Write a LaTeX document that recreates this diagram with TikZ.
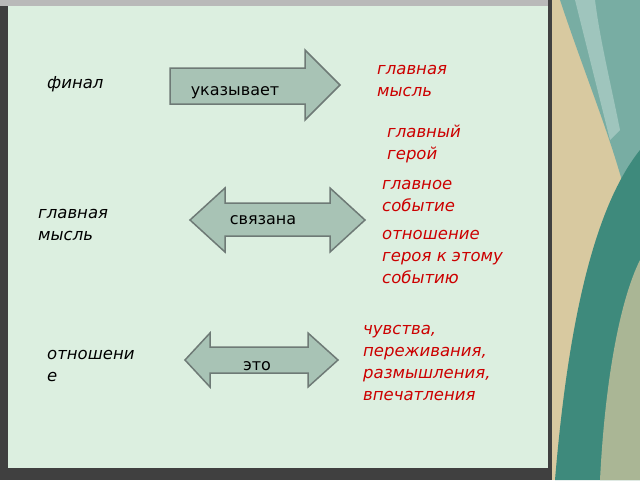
\documentclass[tikz,border=0pt]{standalone}
\usepackage{fontspec}
\setmainfont{DejaVu Sans}
\begin{document}
\begin{tikzpicture}[x=1pt,y=-1pt,
  arr/.style={fill=arrfill,draw=arrdraw,line width=1.5pt,line join=miter},
  blk/.style={anchor=north west,inner sep=0pt,font=\fontsize{16.5}{22}\selectfont\itshape,align=left,text=black},
  red/.style={blk,text=redt},
  lab/.style={font=\fontsize{16}{18}\selectfont,anchor=base}]
\definecolor{bg}{HTML}{DCEFE0}
\definecolor{arrfill}{HTML}{A8C3B5}
\definecolor{arrdraw}{HTML}{6E7A76}
\definecolor{redt}{HTML}{CC0000}
\definecolor{teal}{HTML}{3E8A7C}
\definecolor{beige}{HTML}{D8C9A0}
\useasboundingbox (0,0) rectangle (640,480);
\fill[black!75] (0,0) rectangle (640,480);
\fill[gray!55] (0,0) rectangle (548,6);
\fill[bg] (8,6) rectangle (548,468);
% right decorative panel
\fill[beige] (552,0) rectangle (640,480);
\fill[teal!70] (560,0) .. controls (600,120) and (640,200) .. (640,300) -- (640,0) -- cycle;
\fill[teal] (555,480) .. controls (570,300) and (600,200) .. (640,150) -- (640,480) -- cycle;
\fill[beige!70!teal] (600,480) .. controls (605,380) and (620,300) .. (640,260) -- (640,480) -- cycle;
\fill[teal!50!white] (575,0) .. controls (590,60) and (600,100) .. (610,140) -- (620,130) .. controls (610,80) and (600,40) .. (595,0) -- cycle;
% arrows
\draw[arr] (170,68) -- (305,68) -- (305,50) -- (340,85) -- (305,120) -- (305,104) -- (170,104) -- cycle;
\draw[arr] (190,220) -- (225,188) -- (225,203) -- (330,203) -- (330,188) -- (365,220) -- (330,252) -- (330,236) -- (225,236) -- (225,252) -- cycle;
\draw[arr] (185,360) -- (210,333) -- (210,347) -- (308,347) -- (308,333) -- (338,360) -- (308,387) -- (308,373) -- (210,373) -- (210,387) -- cycle;
\node[lab] (l1) at (235,95) {указывает};
\node[lab] (l2) at (263,224) {связана};
\node[lab] (l3) at (257,370) {это};
% black texts
\node[blk] (a1) at (47,76) {финал};
\node[blk] (a2) at (38,209) {главная\\мысль};
\node[blk] (a3) at (47,350) {отношени\\е};
% red texts
\node[red] (b1) at (377,65) {главная\\мысль};
\node[red] (b2) at (387,125) {главный\\герой};
\node[red] (b3) at (382,180) {главное\\событие};
\node[red] (b4) at (382,230) {отношение\\героя к этому\\событию};
\node[red] (b5) at (363,325) {чувства,\\переживания,\\размышления,\\впечатления};
\end{tikzpicture}
\end{document}
